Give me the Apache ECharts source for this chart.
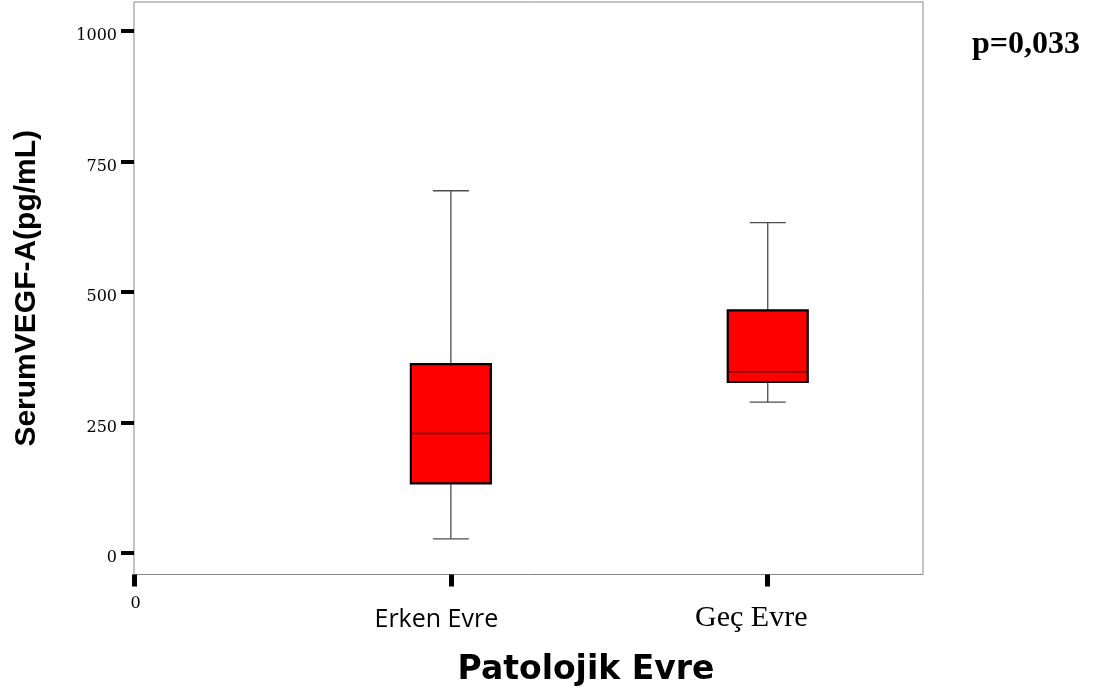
<!DOCTYPE html>
<html>
<head>
<meta charset="utf-8">
<script src="https://cdn.jsdelivr.net/npm/echarts@6/dist/echarts.min.js"></script>
<style>
html,body{margin:0;padding:0;background:#fff;}
#chart{width:1098px;height:695px;}
</style>
</head>
<body>
<div id="chart"></div>
<script>
// ---- data ----
var xPositions = [0, 1, 2];
var xLabels = ['0', 'Erken Evre', 'Geç Evre'];
var yTicks = [0, 250, 500, 750, 1000];
// [min, Q1, median, Q3, max]
var erkenEvre = [27, 133.5, 229, 362, 694];
var gecEvre = [289, 327.6, 347.3, 465, 633];
var yAxisTitle = 'SerumVEGF-A(pg/mL)';
var xAxisTitle = 'Patolojik Evre';
var pValueText = 'p=0,033';

var boxData = [
  [xPositions[1]].concat(erkenEvre),
  [xPositions[2]].concat(gecEvre)
];

var chart = echarts.init(document.getElementById('chart'), null, {renderer: 'canvas'});

var option = {
  animation: false,
  backgroundColor: '#ffffff',
  grid: {
    left: 134, right: 175, top: 2, bottom: 120.5,
    show: true, borderColor: '#888888', borderWidth: 1,
    backgroundColor: 'transparent',
    containLabel: false, outerBoundsMode: 'none'
  },
  xAxis: {
    type: 'value', min: 0, max: 2.49, position: 'bottom',
    axisLine: {show: false, onZero: false},
    splitLine: {show: false},
    axisTick: {show: true, customValues: xPositions, length: 12, lineStyle: {color: '#000', width: 5}},
    axisLabel: {
      show: true,
      customValues: xPositions,
      margin: 29,
      verticalAlign: 'middle',
      formatter: function (v) {
        var i = xPositions.indexOf(v);
        if (i < 0) return '';
        return '{s' + i + '|' + xLabels[i] + '}';
      },
      rich: {
        s0: {fontFamily: 'DejaVu Serif', fontSize: 16, color: '#000', padding: [0, 0, 0, 3]},
        s1: {fontFamily: 'Open Sans', fontSize: 25, color: '#000', padding: [33, 29, 0, 0]},
        s2: {fontFamily: 'Liberation Serif', fontSize: 30, color: '#000', padding: [29, 33, 0, 0]}
      }
    }
  },
  yAxis: {
    type: 'value', min: -41.2, max: 1055.6,
    axisLine: {show: false, onZero: false},
    splitLine: {show: false},
    axisTick: {show: true, customValues: yTicks, length: 13, lineStyle: {color: '#000', width: 4}},
    axisLabel: {
      customValues: yTicks, margin: 17, color: '#000',
      verticalAlign: 'middle',
      formatter: function (v) { return '{n|' + String(v) + '}'; },
      rich: {
        n: {fontFamily: 'DejaVu Serif', fontSize: 16, color: '#000', padding: [10, 0, 0, 0]}
      }
    },
    name: yAxisTitle,
    nameLocation: 'middle',
    nameGap: 92,
    nameRotate: 90,
    nameTextStyle: {fontFamily: 'Liberation Sans', fontWeight: 'bold', fontSize: 30, color: '#000'}
  },
  graphic: [
    {
      type: 'text', left: 972, top: 45.2 - 16,
      style: {text: pValueText, font: 'bold 32px "Liberation Serif"', fill: '#000'}
    },
    {
      type: 'text', x: 586, y: 670,
      style: {text: xAxisTitle, font: 'bold 33px "DejaVu Sans"', fill: '#000', align: 'center', verticalAlign: 'middle'}
    }
  ],
  series: [{
    type: 'custom',
    data: boxData,
    encode: {x: 0, y: [1, 2, 3, 4, 5]},
    clip: false,
    renderItem: function (params, api) {
      var x = api.value(0);
      var pMin = api.coord([x, api.value(1)]);
      var pQ1 = api.coord([x, api.value(2)]);
      var pMed = api.coord([x, api.value(3)]);
      var pQ3 = api.coord([x, api.value(4)]);
      var pMax = api.coord([x, api.value(5)]);
      var cx = pMin[0];
      var hw = 40, cw = 18;
      var whisker = {stroke: '#4d4d4d', lineWidth: 1.3};
      return {
        type: 'group',
        children: [
          {type: 'line', shape: {x1: cx, y1: pMax[1], x2: cx, y2: pQ3[1]}, style: whisker},
          {type: 'line', shape: {x1: cx, y1: pQ1[1], x2: cx, y2: pMin[1]}, style: whisker},
          {type: 'line', shape: {x1: cx - cw, y1: pMax[1], x2: cx + cw, y2: pMax[1]}, style: whisker},
          {type: 'line', shape: {x1: cx - cw, y1: pMin[1], x2: cx + cw, y2: pMin[1]}, style: whisker},
          {type: 'rect', shape: {x: cx - hw, y: pQ3[1], width: 2 * hw, height: pQ1[1] - pQ3[1]},
            style: {fill: '#ff0000', stroke: '#000000', lineWidth: 2.2}},
          {type: 'line', shape: {x1: cx - hw + 1, y1: pMed[1], x2: cx + hw - 1, y2: pMed[1]},
            style: {stroke: '#500000', lineWidth: 1.5}}
        ]
      };
    }
  }]
};
chart.setOption(option);
</script>
</body>
</html>
